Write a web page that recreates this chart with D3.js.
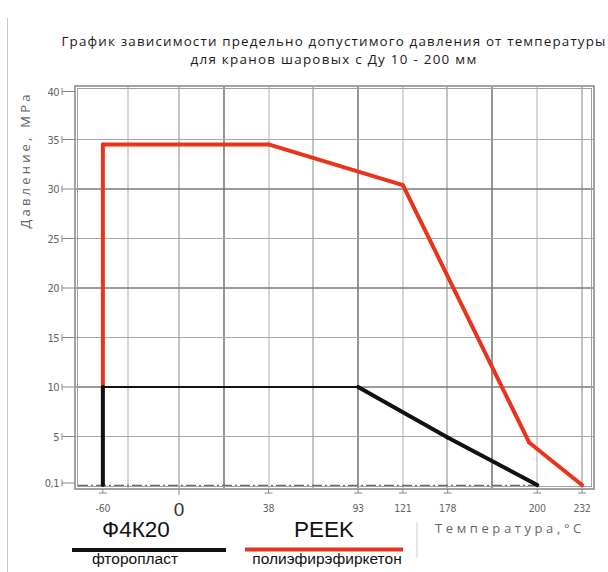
<!DOCTYPE html>
<html><head><meta charset="utf-8">
<script src="https://cdn.jsdelivr.net/npm/d3@7"></script>
<style>body{margin:0;background:#fff}svg{display:block}</style>
</head><body>
<svg id="c" width="608" height="572"></svg>
<script>
// ---- data ----
const titleLines = ["График зависимости предельно допустимого давления от температуры", "для кранов шаровых с Ду 10 - 200 мм"];
const yTicks = [40, 35, 30, 25, 20, 15, 10, 5, 0.1];
const yTickLabels = ["40", "35", "30", "25", "20", "15", "10", "5", "0,1"];
const xTicks = [-60, 0, 38, 93, 121, 178, 200, 232];
const xTickLabels = ["-60", "0", "38", "93", "121", "178", "200", "232"];
const f4k20Temp = [-60, -60, 93, 178, 200];
const f4k20Press = [0.1, 10, 10, 4.9, 0.1];
const peekTemp = [-60, -60, 38, 121, 198, 232];
const peekPress = [10, 34.5, 34.5, 30.4, 4.4, 0.1];
const legendNames = ["Ф4К20", "PEEK"];
const legendSub = ["фторопласт", "полиэфирэфиркетон"];
const yLabel = "Давление, МРа";
const xLabel = "Температура,°С";

// ---- layout ----
const svg = d3.select("#c");
const L = 76, R = 593, T = 87, B = 488;
const step = 44.78, x0 = 179;
const tickUnits = [-1.7, 0, 2, 4, 5, 6, 8, 9];
const x = d3.scaleLinear().domain(xTicks).range(tickUnits.map(u => x0 + u * step));
const y = d3.scaleLinear().domain([0, 40]).range([486, 90]);
const red = "#e8341c";

svg.append("rect").attr("width", 608).attr("height", 572).attr("fill", "#fff");
// left frame line
svg.append("line").attr("x1", 7.5).attr("x2", 7.5).attr("y1", 18).attr("y2", 572).attr("stroke", "#c8c8c8");

// title
const tt = svg.append("g").attr("font-family", "'Open Sans', sans-serif").attr("fill", "#1a1a1a").attr("font-size", 13.4);
const targetW = [545, 287];
titleLines.forEach((t, i) => {
  const el = tt.append("text").attr("x", 334).attr("y", 46 + i * 17.5).attr("text-anchor", "middle").text(t);
  const w = el.node().getComputedTextLength();
  el.attr("letter-spacing", (targetW[i] - w) / t.length);
});

// grid: vertical
const vGrid = [[128, "#bdbdbd"], [179, "#9a9a9a"], [224, "#7a7a7a"], [269, "#bdbdbd"], [313, "#9a9a9a"], [358, "#7a7a7a"],
  [403, "#bdbdbd"], [447, "#9a9a9a"], [492, "#7a7a7a"], [537, "#bdbdbd"], [582, "#9a9a9a"]];
vGrid.forEach(([px, c]) => svg.append("line").attr("x1", px).attr("x2", px).attr("y1", T).attr("y2", B)
  .attr("stroke", c).attr("stroke-width", c === "#7a7a7a" ? 1.6 : 1.2));
// grid: horizontal
yTicks.filter(v => v > 1 && v < 40).forEach(v => {
  const dark = v % 10 === 0;
  svg.append("line").attr("x1", L).attr("x2", R).attr("y1", y(v)).attr("y2", y(v))
    .attr("stroke", dark ? "#7a7a7a" : "#a8a8a8").attr("stroke-width", dark ? 1.6 : 1.2);
});
// dash-dot at 0.1
svg.append("line").attr("x1", L + 2).attr("x2", x(200)).attr("y1", y(0.1) + 0.5).attr("y2", y(0.1) + 0.5)
  .attr("stroke", "#6a6a6a").attr("stroke-width", 1.3).attr("stroke-dasharray", "10,3,2,3");

// frame (double)
svg.append("rect").attr("x", L - 1).attr("y", T - 1).attr("width", R - L + 2).attr("height", B - T + 2)
  .attr("fill", "none").attr("stroke", "#8c8c8c").attr("stroke-width", 1.6);
svg.append("rect").attr("x", L + 1.5).attr("y", T + 1.5).attr("width", R - L - 3).attr("height", B - T - 3)
  .attr("fill", "none").attr("stroke", "#a0a0a0").attr("stroke-width", 1);

// y ticks
const yg = svg.append("g").attr("font-family", "'DejaVu Sans Condensed', 'DejaVu Sans', sans-serif").attr("font-size", 11).attr("fill", "#666");
yTicks.forEach((v, i) => {
  const py = y(v) + (v === 40 ? 1.5 : 0) - (v === 0.1 ? 2 : 0);
  yg.append("line").attr("x1", 62).attr("x2", L - 1).attr("y1", py).attr("y2", py).attr("stroke", "#888");
  yg.append("line").attr("x1", 62).attr("x2", 62).attr("y1", py - 3.5).attr("y2", py + 3.5).attr("stroke", "#888");
  yg.append("text").attr("x", 59).attr("y", py + 4).attr("text-anchor", "end").attr("letter-spacing", -0.5).text(yTickLabels[i]);
});

// x ticks
const xg = svg.append("g").attr("font-family", "'DejaVu Sans Condensed', 'DejaVu Sans', sans-serif").attr("fill", "#666");
xTicks.forEach((v, i) => {
  const px = x(v);
  if (v === 0) {
    xg.append("line").attr("x1", px).attr("x2", px).attr("y1", B + 2).attr("y2", B + 7).attr("stroke", "#888");
    xg.append("text").attr("x", px).attr("y", 516).attr("text-anchor", "middle").attr("font-size", 19)
      .attr("font-family", "'Liberation Sans', Arial, sans-serif").attr("fill", "#333").text(xTickLabels[i]);
  } else {
    xg.append("line").attr("x1", px).attr("x2", px).attr("y1", B + 1).attr("y2", B + 5).attr("stroke", "#888");
    xg.append("line").attr("x1", px - 4).attr("x2", px + 4).attr("y1", B + 5).attr("y2", B + 5).attr("stroke", "#888");
    xg.append("text").attr("x", px).attr("y", 512).attr("text-anchor", "middle").attr("font-size", 10.5)
      .attr("letter-spacing", -0.3).text(xTickLabels[i]);
  }
});

// series
function drawSeries(ts, ps, color, thinHorizontal) {
  const pts = ts.map((t, i) => [x(t), y(ps[i])]);
  d3.pairs(pts).forEach(([a, b]) => {
    const horiz = Math.abs(a[1] - b[1]) < 0.5;
    svg.append("line").attr("x1", a[0]).attr("y1", a[1]).attr("x2", b[0]).attr("y2", b[1])
      .attr("stroke", color).attr("stroke-width", (horiz && thinHorizontal) ? 2 : 4).attr("stroke-linecap", "round");
  });
}
drawSeries(peekTemp, peekPress, red, false);
drawSeries(f4k20Temp, f4k20Press, "#111", true);

// axis labels
svg.append("text").attr("transform", "translate(30,160) rotate(-90)").attr("text-anchor", "middle")
  .attr("font-family", "'Open Sans', sans-serif").attr("font-size", 13).attr("fill", "#666").attr("letter-spacing", 3.2)
  .text(yLabel);
svg.append("text").attr("x", 435).attr("y", 533)
  .attr("font-family", "'Open Sans', sans-serif").attr("font-size", 13).attr("fill", "#666").attr("letter-spacing", 3.6)
  .text(xLabel);
svg.append("line").attr("x1", 417).attr("x2", 417).attr("y1", 522).attr("y2", 558).attr("stroke", "#ccc");

// legend
const lg = svg.append("g").attr("font-family", "'Liberation Sans', Arial, sans-serif").attr("fill", "#111");
const legX = [[72, 226], [245, 403]];
const legColors = ["#111", red];
legendNames.forEach((n, i) => {
  lg.append("text").attr("x", i === 0 ? 136 : 324).attr("y", 537).attr("text-anchor", "middle").attr("font-size", 22.5).text(n);
  lg.append("line").attr("x1", legX[i][0]).attr("x2", legX[i][1]).attr("y1", i === 0 ? 550 : 549.5).attr("y2", i === 0 ? 550 : 549.5)
    .attr("stroke", legColors[i]).attr("stroke-width", 4);
  lg.append("text").attr("x", i === 0 ? 135 : 327).attr("y", 564).attr("text-anchor", "middle").attr("font-size", 15.5).text(legendSub[i]);
});
</script>
</body></html>
